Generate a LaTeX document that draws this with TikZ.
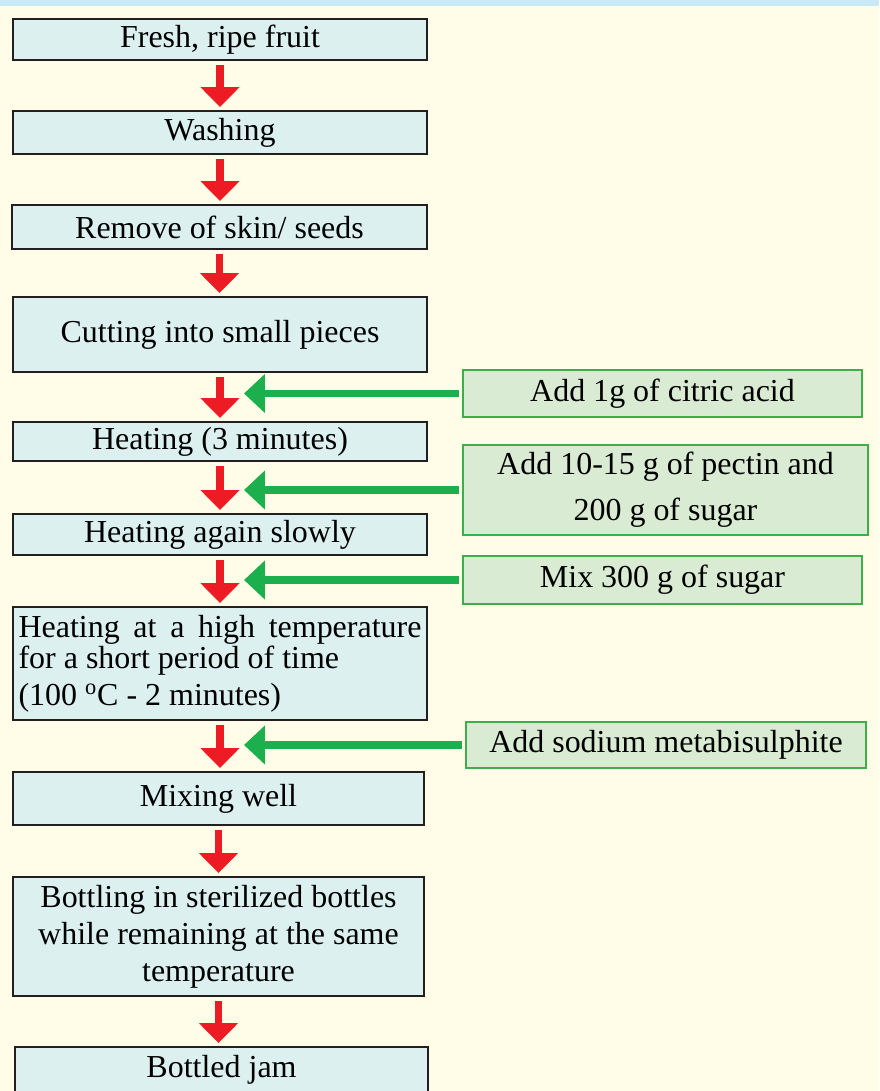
\documentclass[tikz,border=0pt]{standalone}
\usepackage{fontspec}
\setmainfont{Liberation Serif}
\usetikzlibrary{arrows.meta}

\definecolor{paper}{HTML}{FFFDE7}
\definecolor{band}{HTML}{C9E9F6}
\definecolor{boxfill}{HTML}{DCF0F0}
\definecolor{boxline}{HTML}{231F20}
\definecolor{addfill}{HTML}{D9EBD3}
\definecolor{addline}{HTML}{3DAE4A}
\definecolor{arrowred}{HTML}{ED1C24}
\definecolor{arrowgreen}{HTML}{1CAF4D}

\begin{document}
\begin{tikzpicture}[x=0.02cm, y=-0.02cm,
    font=\fontsize{18.2}{21}\selectfont,
    procbox/.style={draw=boxline, fill=boxfill, line width=1.1pt, inner sep=0pt,
        minimum width=8.28cm, text width=7.9cm, align=flush center},
    addbox/.style={draw=addline, fill=addfill, line width=1.1pt, inner sep=0pt,
        minimum width=7.98cm, text width=7.8cm, align=flush center},
    redarrow/.style={draw=arrowred, line width=4.5pt, shorten <=2.3pt,
        -{Triangle[width=21.5pt,length=11.3pt]}, arrowred},
    greenarrow/.style={draw=arrowgreen, line width=4pt, shorten <=1.7pt,
        -{Triangle[width=21.5pt,length=11.9pt]}, arrowgreen}]

    \useasboundingbox (0,0) rectangle (879,1091);
    \clip (0,0) rectangle (879,1091);
    \fill[paper] (0,0) rectangle (879,1091);
    \fill[band] (0,0) rectangle (879,6);

    \node[procbox, minimum height=0.82cm] (fruit) at (220,39.5) {Fresh, ripe fruit};
    \node[procbox, minimum height=0.86cm] (wash) at (220,132.5) {Washing};
    \node[procbox, minimum height=0.88cm, minimum width=8.3cm] (peel) at (219.5,227) {Remove of skin/ seeds};
    \node[procbox, minimum height=1.5cm] (cut) at (220,334.5) {Cutting into small pieces};
    \node[procbox, minimum height=0.78cm] (heat) at (220,441.5) {Heating (3 minutes)};
    \node[procbox, minimum height=0.82cm] (slow) at (220,534.5) {Heating again slowly};
    \node[procbox, minimum height=2.26cm, text width=8.06cm, align=flush left] (high) at (220,663.5)
        {\hbox to 8.06cm{Heating\hfill at\hfill a\hfill high\hfill temperature}\\[-3.4pt]
         for a short period of time\\
         (100 \textsuperscript{o}C - 2 minutes)};
    \node[procbox, minimum height=1.06cm, minimum width=8.22cm] (mix) at (218.5,798.5) {Mixing well};
    \node[procbox, minimum height=2.38cm, minimum width=8.22cm] (bottle) at (218.5,936.5)
        {Bottling in sterilized bottles\\ while remaining at the same\\ temperature};
    \node[procbox, minimum height=0.92cm, minimum width=8.26cm] (jam) at (221.5,1070) {Bottled jam};

    \node[addbox, minimum height=0.94cm] (citric) at (662.5,393.5) {Add 1g of citric acid};
    \node[addbox, minimum height=1.8cm, minimum width=8.1cm] (pectin) at (665.5,490)
        {Add 10-15 g of pectin and\\[5pt] 200 g of sugar};
    \node[addbox, minimum height=0.96cm] (sugar) at (662.5,580) {Mix 300 g of sugar};
    \node[addbox, minimum height=0.92cm, minimum width=8cm] (sulphite) at (666,745) {Add sodium metabisulphite};

    \coordinate (tip) at (244,0);

    \foreach \a/\b in {fruit/wash, wash/peel, peel/cut, cut/heat, heat/slow,
                      slow/high, high/mix, mix/bottle, bottle/jam}{
        \draw[redarrow] (\a.south) -- ([yshift=1.7pt]\a.south |- \b.north);
    }
    \foreach \n in {citric, pectin, sugar, sulphite}{
        \draw[greenarrow] (\n.west) -- (\n.west -| tip);
    }
\end{tikzpicture}
\end{document}
